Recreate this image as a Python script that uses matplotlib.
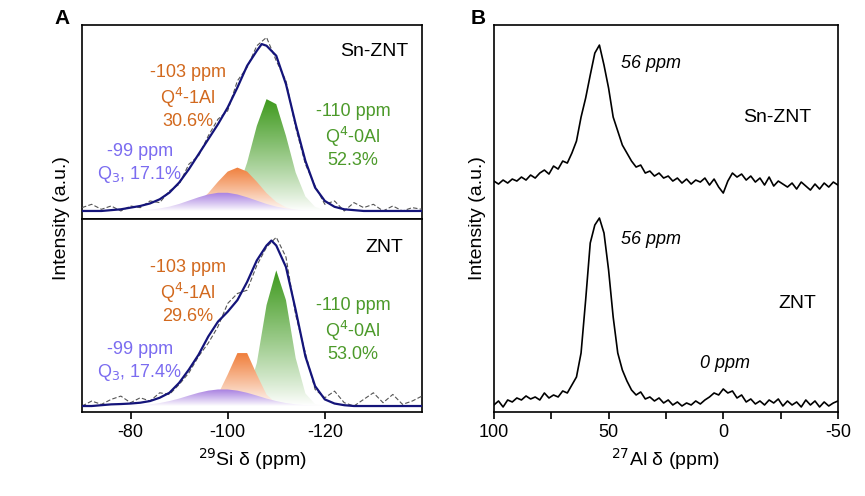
import numpy as np
import matplotlib
matplotlib.use("Agg")
import matplotlib.pyplot as plt
from matplotlib.colors import LinearSegmentedColormap

plt.rcParams['font.family'] = ['Arial', 'Liberation Sans', 'DejaVu Sans']
plt.rcParams['axes.unicode_minus'] = False

# ---- panel A: 29Si, x = -70 ... -140 step 2 ppm ----
si_x = list(range(-70, -142, -2))

sn_green = [0]*15 + [.037, .12, .29, .51, .67, .64, .45, .23, .087, .024, .005] + [0]*10
sn_orange = [0]*9 + [.002, .007, .022, .054, .107, .175, .236, .26, .236, .175, .107, .054, .022, .007, .002] + [0]*12
sn_purple = [0]*5 + [.0015, .004, .008, .015, .026, .042, .062, .082, .099, .109, .109, .099, .082, .062,
                     .042, .026, .015, .008, .004, .0015] + [0]*11
sn_fit_x = list(range(-70, -106, -2)) + [-106, -107, -108] + list(range(-110, -142, -2))
sn_fit = [0, 0, 0, .005, .01, .02, .03, .045, .07, .11, .17, .25, .34, .43, .52, .62, .74, .87, .96, 1.0, .99,
          .93, .76, .52, .3, .14, .06, .025, .01, .005] + [0]*7
sn_exp = [.02, .04, .01, .03, 0, .03, .02, .06, .05, .12, .16, .28, .33, .45, .55, .60, .78, .86, .99, 1.04,
          .90, .78, .50, .28, .15, .04, .06, 0, .05, .02, .04, 0, .03, 0, .02, .01]

znt_green = [0]*16 + [.009, .064, .26, .61, .82, .64, .29, .076, .011, .001] + [0]*10
znt_orange = [0]*12 + [.002, .015, .069, .19, .32, .32, .19, .069, .015, .002] + [0]*14
znt_purple = [0]*5 + [.002, .005, .01, .018, .03, .045, .063, .08, .093, .1, .1, .093, .08, .063,
                      .045, .03, .018, .01, .005, .002] + [0]*11
znt_fit_x = list(range(-70, -108, -2)) + [-108, -109, -110] + list(range(-112, -142, -2))
znt_fit = [0, 0, .005, .01, .012, .015, .02, .03, .05, .08, .14, .22, .31, .42, .51, .57, .64, .75, .88, .97,
           1.0, .97, .84, .58, .3, .12, .04, .015, .005, 0] + [0]*7
znt_exp = [0, .03, .01, .04, .06, .02, .05, .03, .08, .07, .13, .2, .3, .38, .48, .62, .68, .70, .85, .96,
           1.02, .90, .55, .32, .1, .05, .09, .02, 0, .04, .08, .02, .07, .01, .03, .06]

# ---- panel B: 27Al, x = 100 ... -50 step 2 ppm ----
al_x = list(range(100, -52, -2))
al_sn = [.02, -.01, .03, 0, .04, .02, .06, .03, .08, .05, .10, .13, .09, .17, .14, .22, .20, .30, .42, .66,
         .85, 1.08, 1.30, 1.38, 1.18, .95, .66, .52, .38, .30, .22, .16, .18, .10, .12, .07, .10, .05, .07, .02,
         .05, 0, .04, -.01, .03, .01, .05, -.02, .04, -.04, -.10, .02, .10, .06, .09, .03, .07, .01, .05, -.02,
         .06, -.03, .02, -.01, -.04, 0, -.06, .01, -.03, -.07, -.01, -.06, 0, -.04, .01, -.02]
al_znt = [0, .04, -.02, .05, .03, .07, .05, .09, .06, .08, .05, .12, .07, .10, .08, .14, .12, .20, .28, .52,
          1.05, 1.62, 1.80, 1.87, 1.72, 1.35, .88, .52, .35, .24, .15, .10, .13, .06, .08, .04, .07, .02, .05, 0,
          .03, -.01, .02, 0, .04, .01, .05, .08, .12, .10, .16, .12, .14, .07, .10, .03, .06, .01, .04, 0,
          .05, .02, .06, -.01, .04, 0, .03, -.02, .05, 0, .04, -.02, .03, -.01, .02, .04]
al_sn_base = 2.29
al_znt_base = 0.07

GREEN = '#3f9a1e'
ORANGE = '#f07f3c'
PURPLE = '#a77fe0'
NAVY = '#14147a'


def grad_fill(ax, x, y, color):
    x = np.asarray(x, float)
    y = np.asarray(y, float)
    poly = ax.fill_between(x, 0, y, color='none', lw=0)
    path = poly.get_paths()[0]
    cmap = LinearSegmentedColormap.from_list('g', ['white', color])
    grad = np.linspace(0, 1, 200).reshape(-1, 1) ** 0.9
    im = ax.imshow(grad, cmap=cmap, aspect='auto', origin='lower',
                   extent=[x.min(), x.max(), 0, y.max()], zorder=2)
    im.set_clip_path(path, transform=ax.transData)


fig = plt.figure(figsize=(8.65, 4.96), dpi=100)
axA1 = fig.add_axes([0.0948, 0.5585, 0.393, 0.391])
axA2 = fig.add_axes([0.0948, 0.1694, 0.393, 0.389])
axB = fig.add_axes([0.571, 0.1694, 0.3977, 0.780])

for ax, g, o, p, fx, fit, ex, ylim in [
        (axA1, sn_green, sn_orange, sn_purple, sn_fit_x, sn_fit, sn_exp, (-0.048, 1.114)),
        (axA2, znt_green, znt_orange, znt_purple, znt_fit_x, znt_fit, znt_exp, (-0.036, 1.13))]:
    grad_fill(ax, si_x, g, GREEN)
    grad_fill(ax, si_x, o, ORANGE)
    grad_fill(ax, si_x, p, PURPLE)
    ax.plot(si_x, ex, ls=(0, (4, 2)), color='#555555', lw=0.8, zorder=3)
    ax.plot(fx, fit, color=NAVY, lw=1.6, zorder=4)
    ax.set_xlim(-70, -140)
    ax.set_ylim(*ylim)
    ax.set_yticks([])
    for s in ax.spines.values():
        s.set_linewidth(1.2)

axA1.set_xticks([])
axA2.set_xticks([-80, -100, -120])
axA2.tick_params(axis='x', direction='out', length=5, width=1.2, labelsize=13)
axA2.set_xlabel('$^{29}$Si δ (ppm)', fontsize=14)

axB.plot(al_x, np.array(al_sn) + al_sn_base, color='black', lw=1.2)
axB.plot(al_x, np.array(al_znt) + al_znt_base, color='black', lw=1.2)
axB.set_xlim(100, -50)
axB.set_ylim(0, 3.87)
axB.set_yticks([])
axB.set_xticks([100, 75, 50, 25, 0, -25, -50])
axB.set_xticklabels(['100', '', '50', '', '0', '', '-50'])
axB.tick_params(axis='x', direction='out', length=5, width=1.2, labelsize=13)
axB.set_xlabel('$^{27}$Al δ (ppm)', fontsize=14)
axB.set_ylabel('Intensity (a.u.)', fontsize=14, labelpad=6)
for s in axB.spines.values():
    s.set_linewidth(1.2)

W, H = 865, 496


def ft(x, y, s, **kw):
    fig.text(x / W, 1 - y / H, s, ha=kw.pop('ha', 'center'), va='center', fontsize=kw.pop('fontsize', 13),
             linespacing=1.25, **kw)


ft(62, 218, 'Intensity (a.u.)', rotation=90, fontsize=14)
ft(62, 18, 'A', fontsize=15, fontweight='bold')
ft(478, 18, 'B', fontsize=15, fontweight='bold')

ft(374, 52, 'Sn-ZNT', fontsize=14)
ft(188, 97, '-103 ppm\nQ$^4$-1Al\n30.6%', color='#d2691e')
ft(353, 136, '-110 ppm\nQ$^4$-0Al\n52.3%', color='#4c9a2a')
ft(140, 164, '-99 ppm\nQ$_3$, 17.1%', color='#7b6cf0')

ft(384, 247, 'ZNT', fontsize=14)
ft(188, 292, '-103 ppm\nQ$^4$-1Al\n29.6%', color='#d2691e')
ft(353, 330, '-110 ppm\nQ$^4$-0Al\n53.0%', color='#4c9a2a')
ft(140, 362, '-99 ppm\nQ$_3$, 17.4%', color='#7b6cf0')

ft(621, 63, '56 ppm', ha='left', style='italic')
ft(777, 118, 'Sn-ZNT', fontsize=14)
ft(621, 240, '56 ppm', ha='left', style='italic')
ft(797, 303, 'ZNT', fontsize=14)
ft(700, 363, '0 ppm', ha='left', style='italic')

fig.savefig('out.png', dpi=100)
